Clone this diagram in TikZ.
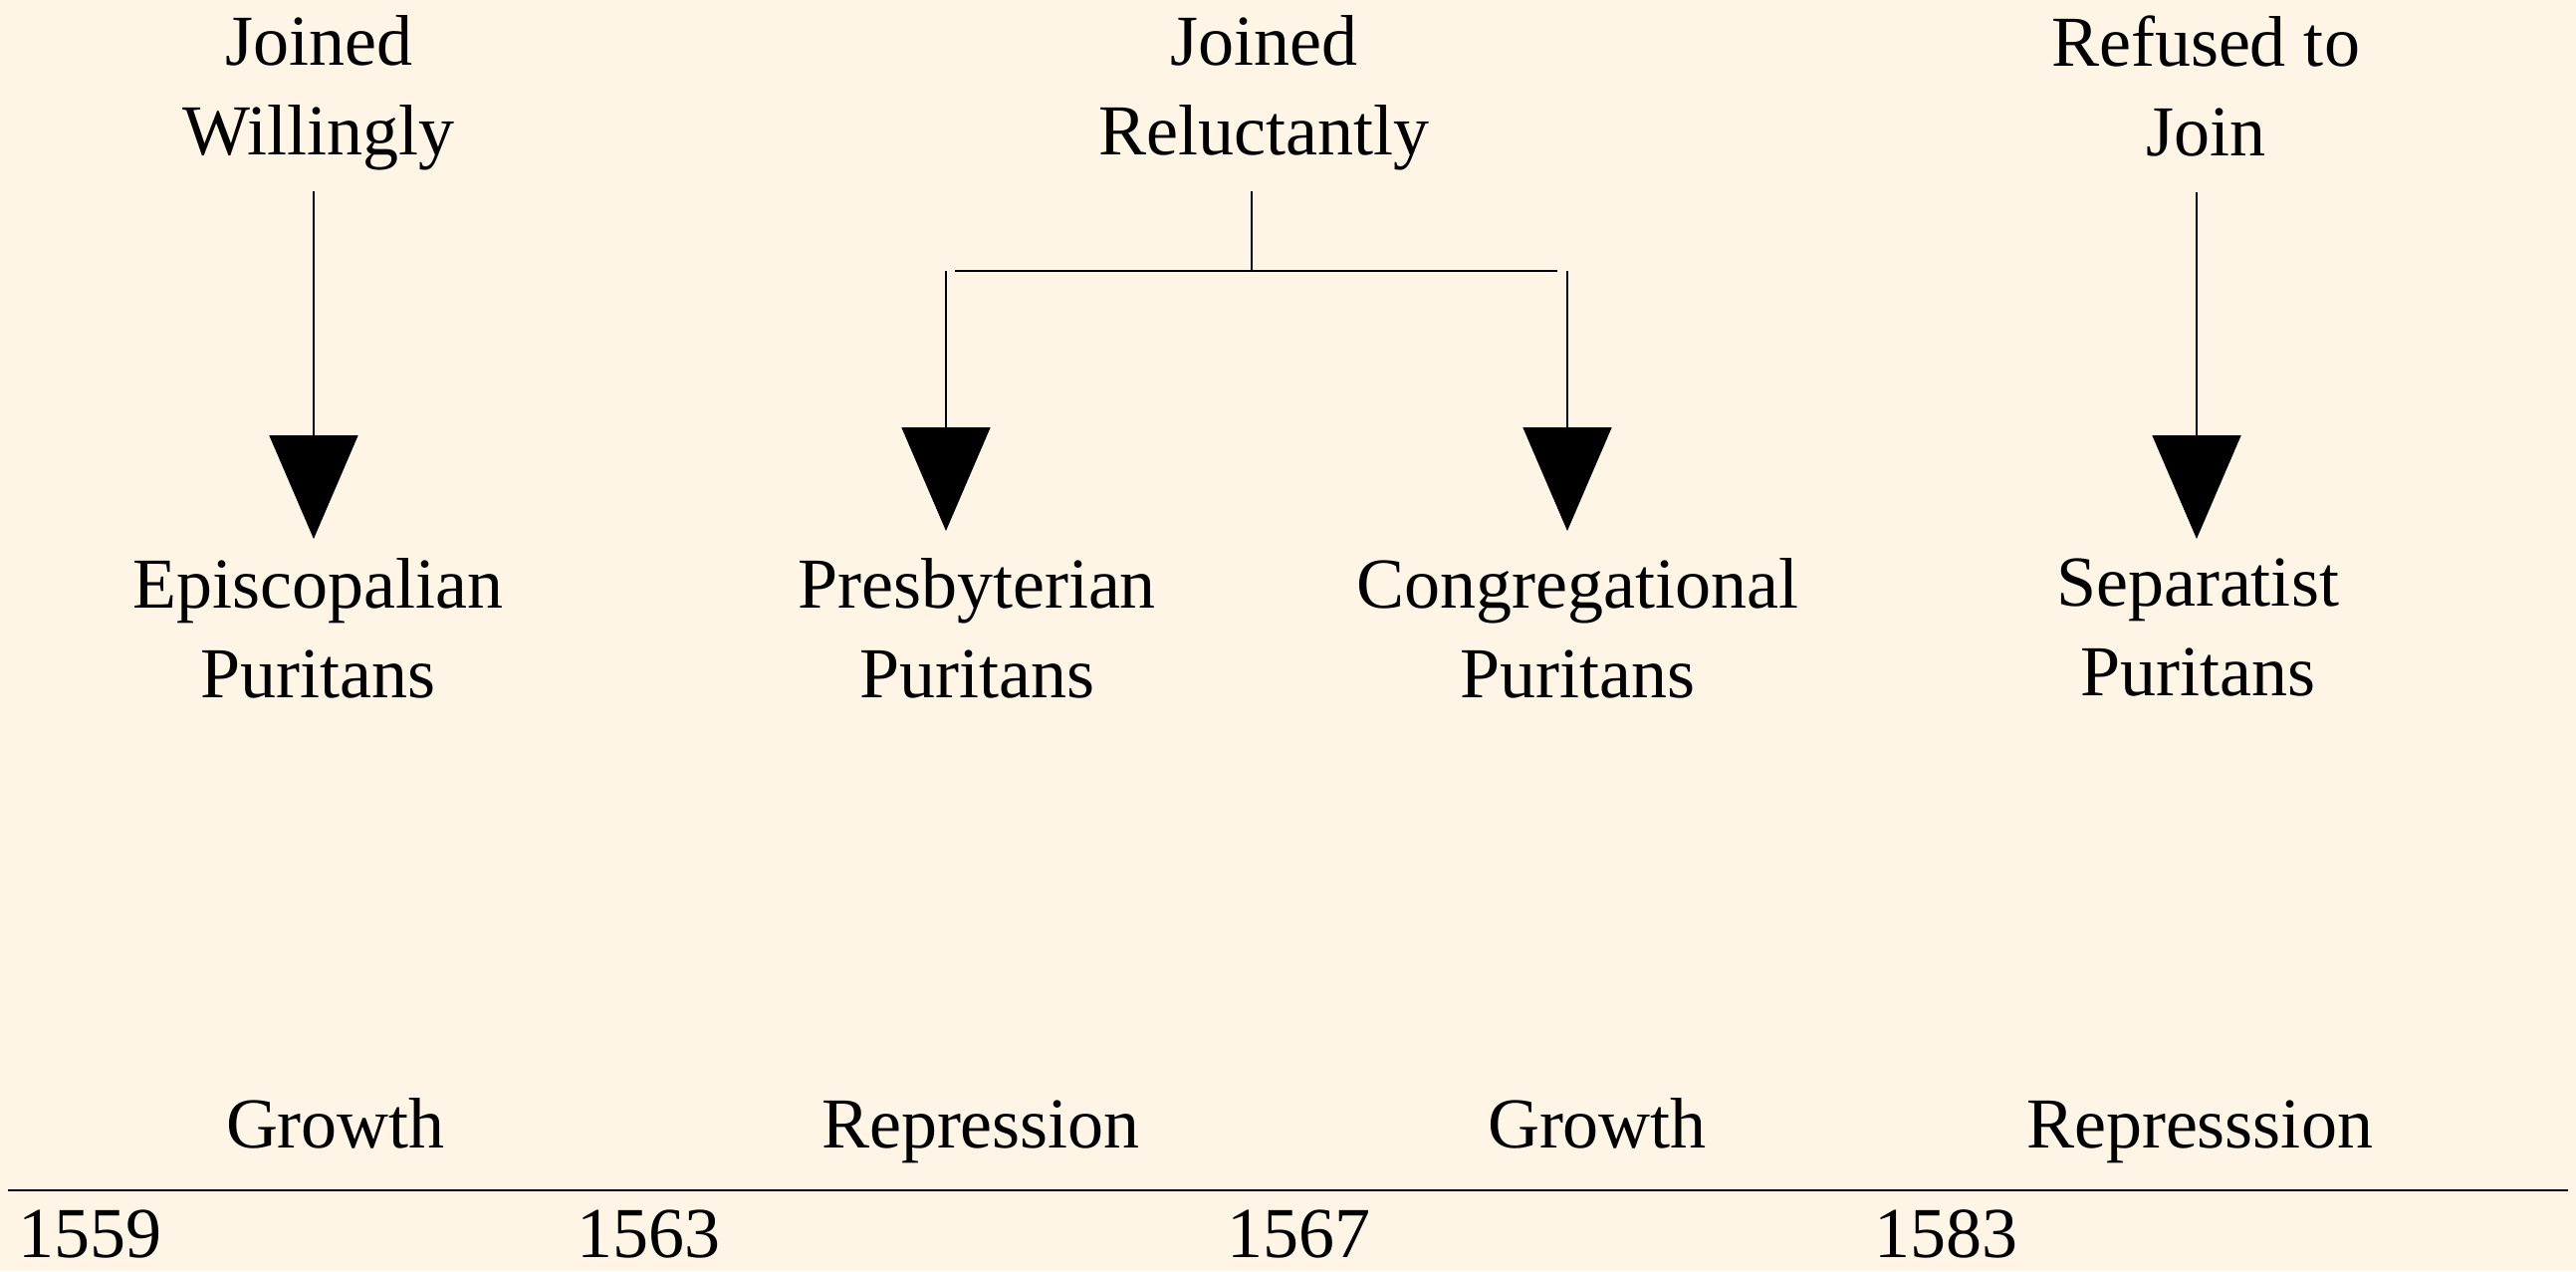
\documentclass[tikz,border=0pt]{standalone}
\usepackage{fontspec}
\setmainfont{Liberation Serif}
\usetikzlibrary{arrows.meta}
\definecolor{bg}{HTML}{FEF5E6}
\begin{document}
\begin{tikzpicture}[x=0.5pt,y=-0.5pt,
  lbl/.style={font=\fontsize{36}{45}\selectfont, align=center, inner sep=0pt, text=black},
  conn/.style={line width=0.9pt, black},
  arr/.style={conn, -{Triangle[width=44.5pt,length=52pt]}},
]
\fill[bg] (0,0) rectangle (2587,1276);
\useasboundingbox (0,0) rectangle (2587,1276);

% top labels
\node[lbl,anchor=north] (t1) at (320,15) {Joined\\Willingly};
\node[lbl,anchor=north] (t2) at (1269,15) {Joined\\Reluctantly};
\node[lbl,anchor=north] (t3) at (2215,15) {Refused to\\Join};

% group labels
\node[lbl,anchor=north] (b1) at (319,560) {Episcopalian\\Puritans};
\node[lbl,anchor=north] (b2) at (981,560) {Presbyterian\\Puritans};
\node[lbl,anchor=north] (b3) at (1584,560) {Congregational\\Puritans};
\node[lbl,anchor=north] (b4) at (2207,560) {Separatist\\Puritans};

% arrow columns
\coordinate (c1) at (315,0);
\coordinate (c4) at (2206,0);
\coordinate (jn) at (1257,272);
\coordinate (hl) at (959,272);
\coordinate (hr) at (1564,272);
\coordinate (vl) at (950,272);
\coordinate (vr) at (1574,272);

\draw[arr, shorten <=10.5pt, shorten >=9.5pt] (t1.south -| c1) -- (b1.north -| c1);
\draw[arr, shorten <=18pt, shorten >=9.5pt] (t3.south -| c4) -- (b4.north -| c4);
\draw[conn, shorten <=10.5pt] (t2.south -| jn) -- (jn);
\draw[conn, line width=1.1pt] (hl) -- (hr);
\draw[arr, shorten >=13.5pt] (vl) -- (b2.north -| vl);
\draw[arr, shorten >=13.5pt] (vr) -- (b3.north -| vr);

% phases
\node[lbl,anchor=base] (p1) at (337,1152) {Growth};
\node[lbl,anchor=base] (p2) at (985,1152) {Repression};
\node[lbl,anchor=base] (p3) at (1604,1152) {Growth};
\node[lbl,anchor=base] (p4) at (2209,1152) {Represssion};

% axis
\coordinate (axl) at (8,1195);
\coordinate (axr) at (2579,1195);
\draw[conn, line width=1.1pt] (axl) -- (axr);

% years
\node[lbl,anchor=base west] (y1) at (18,1262) {1559};
\node[lbl,anchor=base west] (y2) at (579,1262) {1563};
\node[lbl,anchor=base west] (y3) at (1232,1262) {1567};
\node[lbl,anchor=base west] (y4) at (1882,1262) {1583};
\end{tikzpicture}
\end{document}
